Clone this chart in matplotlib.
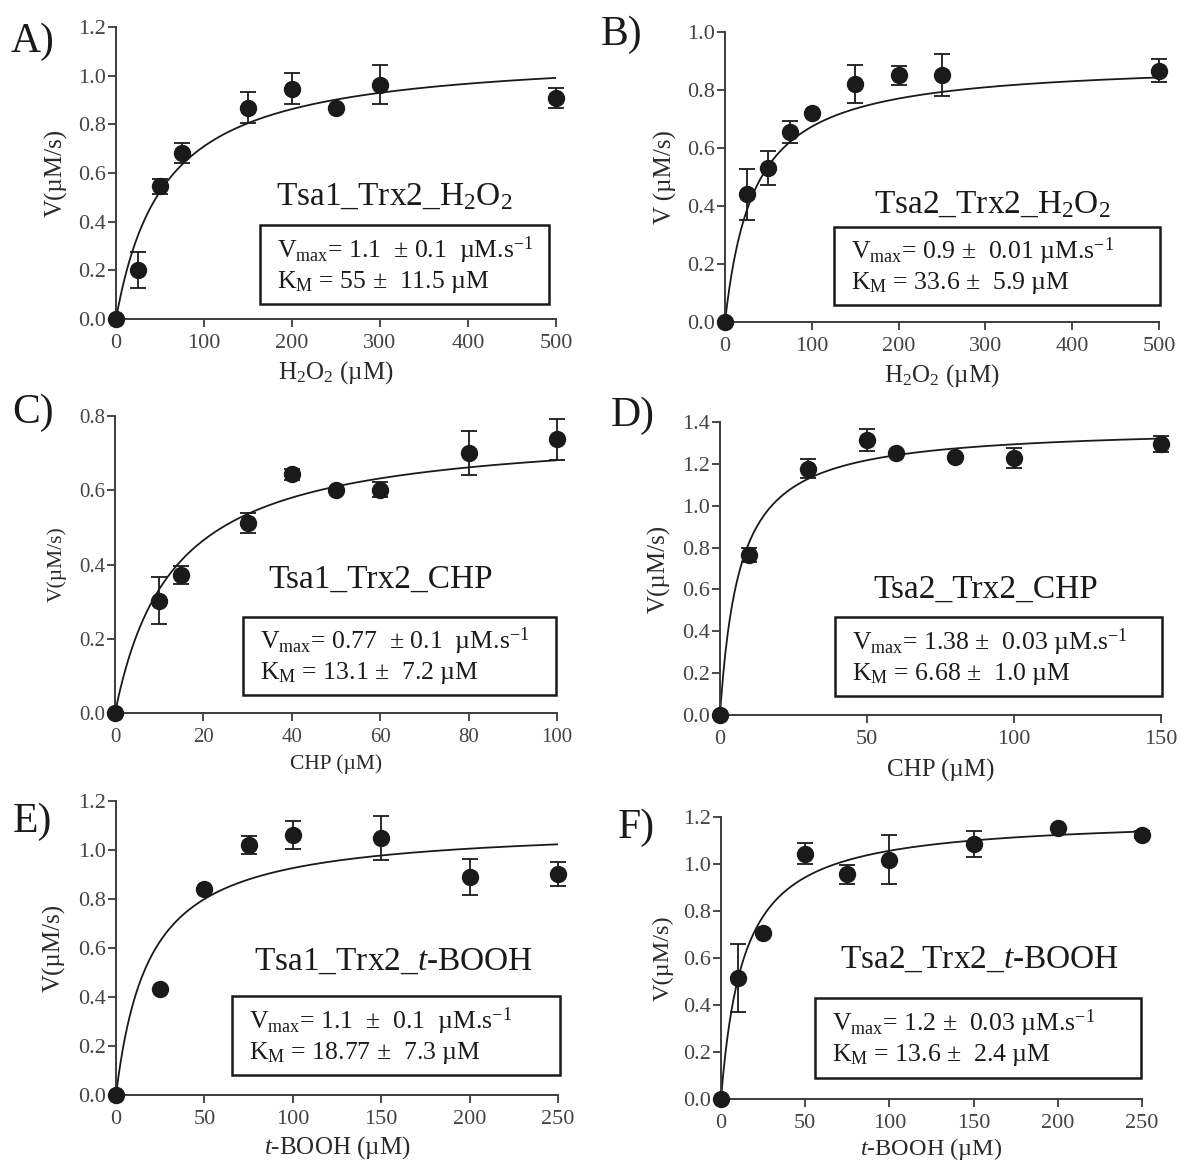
import numpy as np
import matplotlib
matplotlib.use("Agg")
import matplotlib.pyplot as plt
from matplotlib.patches import Rectangle

plt.rcParams["font.family"] = ["Liberation Serif", "DejaVu Serif"]
plt.rcParams["mathtext.fontset"] = "custom"
plt.rcParams["mathtext.rm"] = "Liberation Serif"
plt.rcParams["mathtext.it"] = "Liberation Serif:italic"
plt.rcParams["mathtext.bf"] = "Liberation Serif:bold"

# ---- kinetic data (substrate concentration in uM, initial rate in uM/s, SD) ----
a_conc = [0, 25, 50, 75, 150, 200, 250, 300, 500]
a_rate = [0, 0.200, 0.545, 0.683, 0.868, 0.947, 0.868, 0.963, 0.909]
a_err = [0, 0.074, 0.030, 0.040, 0.064, 0.065, 0, 0.080, 0.040]

b_conc = [0, 25, 50, 75, 100, 150, 200, 250, 500]
b_rate = [0, 0.441, 0.530, 0.654, 0.722, 0.820, 0.851, 0.851, 0.867]
b_err = [0, 0.088, 0.059, 0.038, 0, 0.065, 0.033, 0.073, 0.041]

c_conc = [0, 10, 15, 30, 40, 50, 60, 80, 100]
c_rate = [0, 0.302, 0.371, 0.512, 0.643, 0.602, 0.602, 0.700, 0.737]
c_err = [0, 0.063, 0.024, 0.026, 0.015, 0, 0.020, 0.060, 0.055]

d_conc = [0, 10, 30, 50, 60, 80, 100, 150]
d_rate = [0, 0.764, 1.177, 1.314, 1.254, 1.233, 1.227, 1.295]
d_err = [0, 0.034, 0.045, 0.052, 0, 0, 0.048, 0.040]

e_conc = [0, 25, 50, 75, 100, 150, 200, 250]
e_rate = [0, 0.433, 0.842, 1.022, 1.060, 1.050, 0.890, 0.903]
e_err = [0, 0, 0, 0.037, 0.057, 0.090, 0.072, 0.048]

f_conc = [0, 10, 25, 50, 75, 100, 150, 200, 250]
f_rate = [0, 0.515, 0.706, 1.044, 0.956, 1.018, 1.085, 1.152, 1.125]
f_err = [0, 0.145, 0, 0.046, 0.040, 0.104, 0.055, 0, 0.015]

# Michaelis-Menten fit parameters
vmax = [1.1, 0.9, 0.77, 1.38, 1.1, 1.2]
km = [55, 33.6, 13.1, 6.68, 18.77, 13.6]

panel_letters = ["A)", "B)", "C)", "D)", "E)", "F)"]
titles = ["Tsa1_Trx2_H$_2$O$_2$", "Tsa2_Trx2_H$_2$O$_2$",
          "Tsa1_Trx2_CHP", "Tsa2_Trx2_CHP",
          "Tsa1_Trx2_$t$-BOOH", "Tsa2_Trx2_$t$-BOOH"]
VM = "V$_\\mathrm{max}$"
KM = "K$_\\mathrm{M}$"
INV_S = "\u00b5M.s$^{\\mathrm{-1}}$"
PM = "$\\pm$"
box_texts = [
    f"{VM}= 1.1  {PM} 0.1  {INV_S}\n{KM} = 55 {PM}  11.5 \u00b5M",
    f"{VM}= 0.9 {PM}  0.01 {INV_S}\n{KM} = 33.6 {PM}  5.9 \u00b5M",
    f"{VM}= 0.77  {PM} 0.1  {INV_S}\n{KM} = 13.1 {PM}  7.2 \u00b5M",
    f"{VM}= 1.38 {PM}  0.03 {INV_S}\n{KM} = 6.68 {PM}  1.0 \u00b5M",
    f"{VM}= 1.1  {PM}  0.1  {INV_S}\n{KM} = 18.77 {PM}  7.3 \u00b5M",
    f"{VM}= 1.2 {PM}  0.03 {INV_S}\n{KM} = 13.6 {PM}  2.4 \u00b5M",
]
x_labels = ["H$_2$O$_2$ (\u00b5M)", "H$_2$O$_2$ (\u00b5M)", "CHP (\u00b5M)",
            "CHP (\u00b5M)", "$t$-BOOH (\u00b5M)", "$t$-BOOH (\u00b5M)"]
y_labels = ["V(\u00b5M/s)", "V (\u00b5M/s)", "V(\u00b5M/s)",
            "V(\u00b5M/s)", "V(\u00b5M/s)", "V(\u00b5M/s)"]
x_ticks = [[0, 100, 200, 300, 400, 500], [0, 100, 200, 300, 400, 500],
           [0, 20, 40, 60, 80, 100], [0, 50, 100, 150],
           [0, 50, 100, 150, 200, 250], [0, 50, 100, 150, 200, 250]]
y_ticks = [[0, 0.2, 0.4, 0.6, 0.8, 1.0, 1.2], [0, 0.2, 0.4, 0.6, 0.8, 1.0],
           [0, 0.2, 0.4, 0.6, 0.8], [0, 0.2, 0.4, 0.6, 0.8, 1.0, 1.2, 1.4],
           [0, 0.2, 0.4, 0.6, 0.8, 1.0, 1.2], [0, 0.2, 0.4, 0.6, 0.8, 1.0, 1.2]]

datasets = [(a_conc, a_rate, a_err), (b_conc, b_rate, b_err),
            (c_conc, c_rate, c_err), (d_conc, d_rate, d_err),
            (e_conc, e_rate, e_err), (f_conc, f_rate, f_err)]

# ---- layout in pixels: axes (left, right, top, bottom) ----
W, H = 1181, 1164
axes_px = [(116, 556, 27, 319), (725, 1159, 32, 322),
           (115, 557, 416, 713), (720, 1161, 422, 715),
           (116, 558, 801, 1095), (721, 1142, 817, 1099)]
box_px = [(260, 549, 225, 304), (834, 1160, 227, 305),
          (243, 556, 617, 695), (835, 1162, 617, 696),
          (232, 560, 996, 1075), (815, 1141, 998, 1078)]
title_px = [(394, 205), (992, 213), (381, 588), (986, 598), (394, 970), (980, 968)]
letter_px = [(33, 42), (622, 35), (33, 413), (633, 416), (32, 822), (636, 828)]
xlabel_off = [54, 54, 51, 55, 53, 50]
ylabel_off = [60, 60, 58, 61, 62, 58]
label_size = [18, 18, 15.5, 18, 18, 17.5]
tick_size = [16, 16, 15, 16, 16, 16]

ink = "#1a1a1a"
axis_col = "#3c3c3c"
tick_col = "#444444"

fig = plt.figure(figsize=(W / 100, H / 100), dpi=100)


def fx(x):
    return x / W


def fy(y):
    return 1 - y / H


for i, (conc, rate, err) in enumerate(datasets):
    l, r, t, b = axes_px[i]
    ax = fig.add_axes([fx(l), fy(b), (r - l) / W, (b - t) / H])
    xmax = x_ticks[i][-1]
    ymax = y_ticks[i][-1]

    s = np.linspace(0, xmax, 400)
    ax.plot(s, vmax[i] * s / (km[i] + s), color=ink, lw=1.3, zorder=2)

    ax.errorbar(conc, rate, yerr=err, fmt="o", color=ink, ms=11.5,
                ecolor=ink, elinewidth=1.3, capsize=6, capthick=1.3,
                clip_on=False, zorder=3)

    ax.set_xlim(0, xmax)
    ax.set_ylim(0, ymax)
    ax.set_xticks(x_ticks[i])
    ax.set_xticklabels([f"{v:g}" for v in x_ticks[i]])
    ax.set_yticks(y_ticks[i])
    ax.set_yticklabels([f"{v:.1f}" for v in y_ticks[i]])
    for side in ("top", "right"):
        ax.spines[side].set_visible(False)
    for side in ("left", "bottom"):
        ax.spines[side].set_color(axis_col)
        ax.spines[side].set_linewidth(1.4)
    ax.tick_params(direction="out", length=6, width=1.3, color=axis_col,
                   labelsize=tick_size[i], labelcolor=tick_col)
    ax.tick_params(axis="y", pad=1)
    ax.tick_params(axis="x", pad=5)

    # axis titles
    fig.text(fx((l + r) / 2), fy(b + xlabel_off[i]), x_labels[i],
             ha="center", va="center", fontsize=label_size[i], color="#2a2a2a")
    fig.text(fx(l - ylabel_off[i]), fy((t + b) / 2), y_labels[i],
             ha="center", va="center", rotation=90,
             fontsize=label_size[i], color="#2a2a2a")

    # panel letter and enzyme/substrate title
    fig.text(fx(letter_px[i][0]), fy(letter_px[i][1]), panel_letters[i],
             ha="center", va="center", fontsize=30, color=ink)
    fig.text(fx(title_px[i][0]), fy(title_px[i][1]), titles[i],
             ha="center", va="baseline", fontsize=24, color=ink)

    # parameter box
    bx0, bx1, by0, by1 = box_px[i]
    fig.patches.append(Rectangle((fx(bx0), fy(by1)), (bx1 - bx0) / W,
                                 (by1 - by0) / H, transform=fig.transFigure,
                                 fill=False, edgecolor=ink, lw=1.8))
    fig.text(fx(bx0 + 17), fy((by0 + by1) / 2), box_texts[i],
             ha="left", va="center", fontsize=18.5, color=ink,
             linespacing=1.15)

fig.savefig("out.png", dpi=100, facecolor="white")
